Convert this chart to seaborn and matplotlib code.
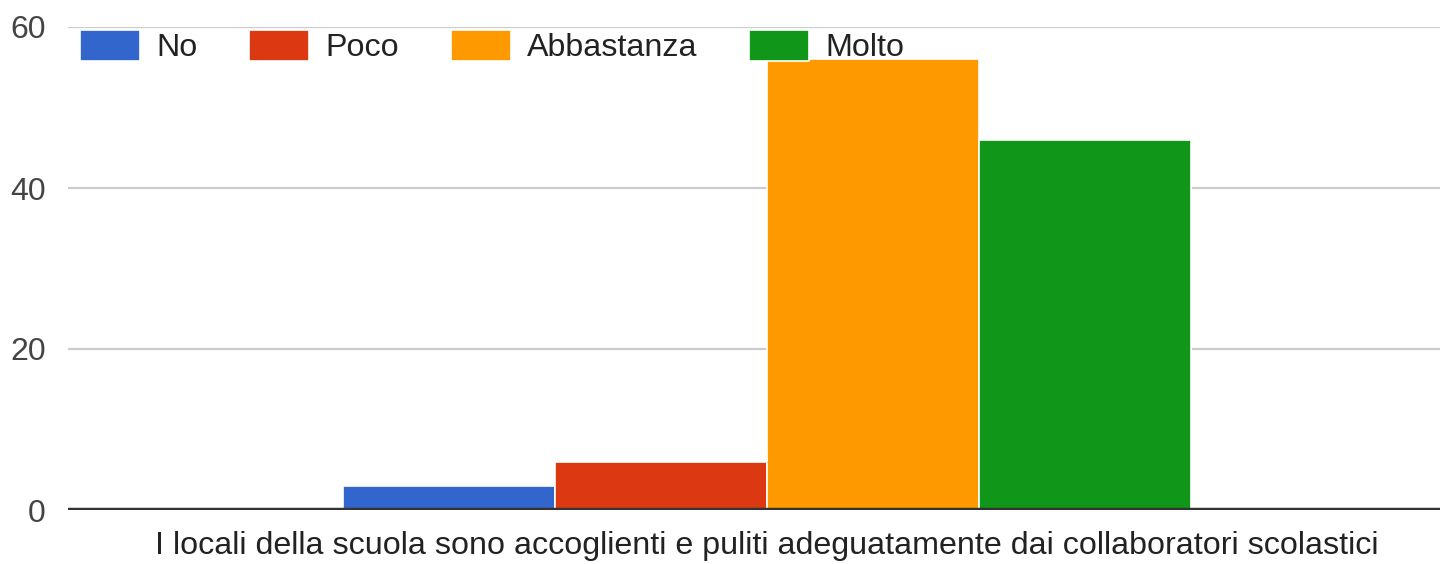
import matplotlib
matplotlib.use('Agg')
import matplotlib.pyplot as plt
import pandas as pd
import seaborn as sns

# dati
domanda = ['I locali della scuola sono accoglienti e puliti adeguatamente dai collaboratori scolastici']
risposte = ['No', 'Poco', 'Abbastanza', 'Molto']
valori = [3, 6, 56, 46]
colori = ['#3366cc', '#dc3912', '#ff9900', '#109618']
yticks = [0, 20, 40, 60]

df = pd.DataFrame({
    'domanda': domanda * len(risposte),
    'risposta': risposte,
    'valore': valori,
})

sns.set_style('white')
plt.rcParams['font.family'] = ['Liberation Sans', 'DejaVu Sans']

fig = plt.figure(figsize=(14.4, 5.64), dpi=100)
ax = fig.add_axes([68 / 1440, 1 - 510 / 564, 1 - 68 / 1440, (510 - 27) / 564])

sns.barplot(data=df, x='domanda', y='valore', hue='risposta', hue_order=risposte,
            palette=colori, saturation=1, edgecolor='white', linewidth=1.2, ax=ax)

ax.set_xlim(-0.659, 0.635)
ax.set_ylim(0, 60)
ax.set_yticks(yticks)
ax.set_xlabel('')
ax.set_ylabel('')
ax.yaxis.grid(True, color='#cccccc', linewidth=1.6)
ax.set_axisbelow(True)
ax.axhline(0, color='#333333', linewidth=3.2, zorder=5)
for s in ax.spines.values():
    s.set_visible(False)
ax.tick_params(axis='y', length=0, pad=16, labelsize=23, labelcolor='#444444')
ax.tick_params(axis='x', length=0, pad=15, labelsize=23.2, labelcolor='#222222')

handles, labels = ax.get_legend_handles_labels()
ax.legend(handles, labels, ncol=4, loc='upper left', bbox_to_anchor=(12 / 1372, 1 - 3 / 483),
          frameon=False, fontsize=23.2, handlelength=1.87, handleheight=1.1,
          handletextpad=0.5, columnspacing=1.6, borderaxespad=0.0, borderpad=0.0,
          labelcolor='#222222')

fig.savefig('out.png', dpi=100)
